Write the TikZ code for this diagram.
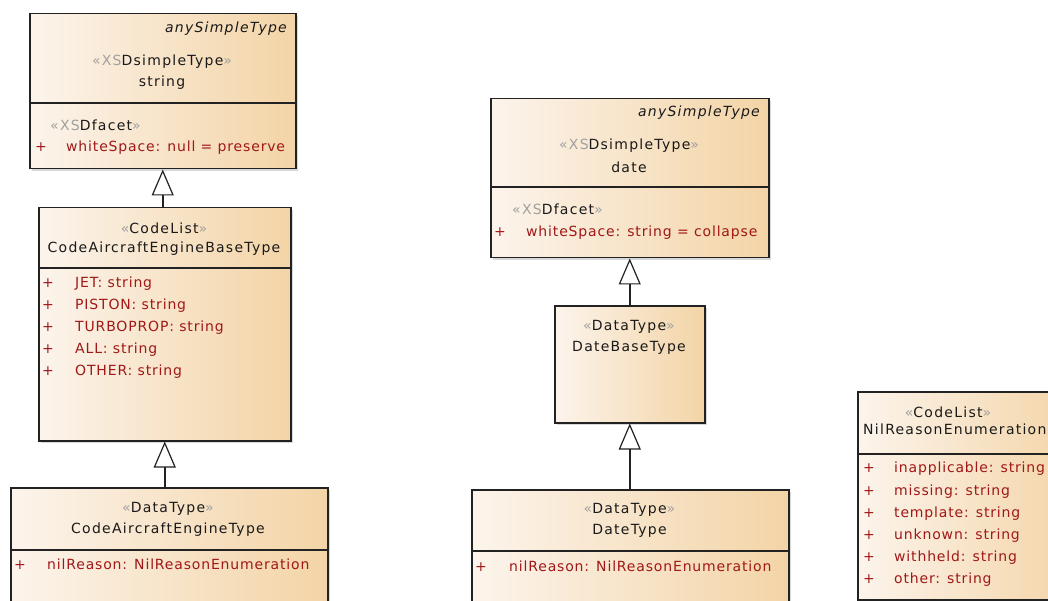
\documentclass[tikz,border=0pt]{standalone}
\usepackage{fontspec}
\setmainfont{DejaVu Sans}[LetterSpace=9]
\newfontfamily\attrfont{DejaVu Sans}[LetterSpace=6]
\usetikzlibrary{arrows.meta,shadows}
\definecolor{attr}{HTML}{A01818}
\definecolor{stg}{HTML}{A0A0A0}
\definecolor{fillL}{HTML}{FCF4EC}
\definecolor{fillR}{HTML}{F3D4A6}
\definecolor{edge}{HTML}{222222}
\tikzset{
  cls/.style={draw=edge, line width=1.5pt, left color=fillL, right color=fillR, anchor=north west, inner sep=0pt,
    drop shadow={shadow xshift=2.5pt, shadow yshift=-2.5pt, fill=black!30, opacity=0.5}},
  txt/.style={font=\fontsize{14}{16}\selectfont, text=black!90, inner sep=0pt},
  itl/.style={txt, font=\fontsize{14}{16}\selectfont\itshape, anchor=mid east},
  attrtxt/.style={txt, font=\attrfont\fontsize{14}{16}\selectfont, text=attr, anchor=mid west},
  pl/.style={txt, font=\attrfont\fontsize{14}{16}\selectfont, text=attr, anchor=mid},
  divl/.style={draw=edge, line width=1.5pt},
  gen/.style={draw=edge, line width=1.5pt, -{Triangle[length=26pt, width=22pt, fill=white, line width=1.2pt]}}
}
\begin{document}
\begin{tikzpicture}[x=1pt, y=-1pt]
\path[use as bounding box, clip] (0,0) rectangle (1048,601);
\fill[white] (0,0) rectangle (1048,601);
% boxes
\node[cls, minimum width=266pt, minimum height=155pt] (A) at (29,13) {};
\node[cls, minimum width=252pt, minimum height=233pt] (B) at (38,207) {};
\node[cls, minimum width=317pt, minimum height=140pt] (C) at (10,487) {};
\node[cls, minimum width=278pt, minimum height=159pt] (D) at (490,98) {};
\node[cls, minimum width=150pt, minimum height=117pt] (E) at (554,305) {};
\node[cls, minimum width=317pt, minimum height=140pt] (F) at (471,489) {};
\node[cls, minimum width=220pt, minimum height=208pt] (G) at (857,391) {};
% dividers
\draw[divl] (A.west |- 0,103) -- (A.east |- 0,103);
\draw[divl] (B.west |- 0,268) -- (B.east |- 0,268);
\draw[divl] (C.west |- 0,550) -- (C.east |- 0,550);
\draw[divl] (D.west |- 0,187) -- (D.east |- 0,187);
\draw[divl] (F.west |- 0,551) -- (F.east |- 0,551);
\draw[divl] (G.west |- 0,454) -- (G.east |- 0,454);
% connectors
\draw[gen] (B.north -| A.south) -- (A.south);
\draw[gen] (C.north -| B.south) -- (B.south);
\draw[gen] (E.north) -- (D.south);
\draw[gen] (F.north -| E.south) -- (E.south);
% A
\node[itl] (a1) at (287,30) {anySimpleType};
\node[txt] (a2) at (162,62) {{\color{stg}«XS}DsimpleType{\color{stg}»}};
\node[txt] (a3) at (162,83) {string};
\node[txt, anchor=mid west] (a4) at (50,128) {{\color{stg}«XS}Dfacet{\color{stg}»}};
\node[pl] (a5) at (41,149) {+};
\node[attrtxt] (a6) at (66,149) {whiteSpace: null = preserve};
% B
\node[txt] (b1) at (164,228) {{\color{stg}«}CodeList{\color{stg}»}};
\node[txt] (b2) at (164,249) {CodeAircraftEngineBaseType};
\node[pl] (b3) at (48,285) {+};
\node[attrtxt] (b4) at (75,285) {JET: string};
\node[pl] (b5) at (48,307) {+};
\node[attrtxt] (b6) at (75,307) {PISTON: string};
\node[pl] (b7) at (48,329) {+};
\node[attrtxt] (b8) at (75,329) {TURBOPROP: string};
\node[pl] (b9) at (48,351) {+};
\node[attrtxt] (b10) at (75,351) {ALL: string};
\node[pl] (b11) at (48,373) {+};
\node[attrtxt] (b12) at (75,373) {OTHER: string};
% C
\node[txt] (c1) at (168,509) {{\color{stg}«}DataType{\color{stg}»}};
\node[txt] (c2) at (168,530) {CodeAircraftEngineType};
\node[pl] (c3) at (20,567) {+};
\node[attrtxt] (c4) at (47,567) {nilReason: NilReasonEnumeration};
% D
\node[itl] (d1) at (760,114) {anySimpleType};
\node[txt] (d2) at (629,146) {{\color{stg}«XS}DsimpleType{\color{stg}»}};
\node[txt] (d3) at (629,167) {date};
\node[txt, anchor=mid west] (d4) at (512,212) {{\color{stg}«XS}Dfacet{\color{stg}»}};
\node[pl] (d5) at (500,234) {+};
\node[attrtxt] (d6) at (526,234) {whiteSpace: string = collapse};
% E
\node[txt] (e1) at (629,327) {{\color{stg}«}DataType{\color{stg}»}};
\node[txt] (e2) at (629,348) {DateBaseType};
% F
\node[txt] (f1) at (629.5,510) {{\color{stg}«}DataType{\color{stg}»}};
\node[txt] (f2) at (629.5,531) {DateType};
\node[pl] (f3) at (481,569) {+};
\node[attrtxt] (f4) at (509,569) {nilReason: NilReasonEnumeration};
% G
\node[txt] (g1) at (948,412) {{\color{stg}«}CodeList{\color{stg}»}};
\node[txt, anchor=mid west] (g2) at (863,432) {NilReasonEnumeration};
\node[pl] (g3) at (869,470) {+};
\node[attrtxt] (g4) at (894,470) {inapplicable: string};
\node[pl] (g5) at (869,493) {+};
\node[attrtxt] (g6) at (894,493) {missing: string};
\node[pl] (g7) at (869,515) {+};
\node[attrtxt] (g8) at (894,515) {template: string};
\node[pl] (g9) at (869,537) {+};
\node[attrtxt] (g10) at (894,537) {unknown: string};
\node[pl] (g11) at (869,559) {+};
\node[attrtxt] (g12) at (894,559) {withheld: string};
\node[pl] (g13) at (869,581) {+};
\node[attrtxt] (g14) at (894,581) {other: string};
\end{tikzpicture}
\end{document}
